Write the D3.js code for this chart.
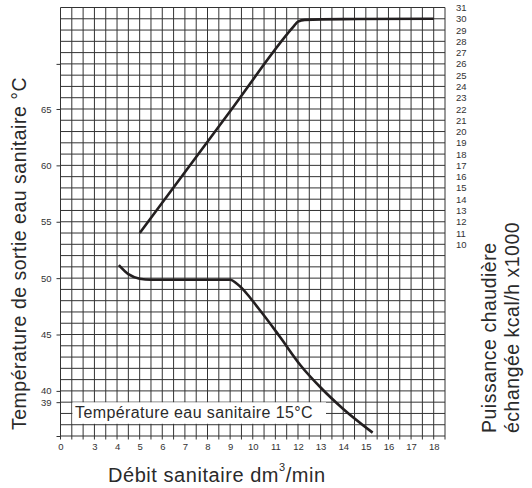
<!DOCTYPE html>
<html>
<head>
<meta charset="utf-8">
<script src="https://cdn.jsdelivr.net/npm/d3@7"></script>
<style>
  body { margin: 0; background: #fff; }
  svg { display: block; }
</style>
</head>
<body>
<div id="main"></div>
<script>
// débit sanitaire (dm3/min) -> température de sortie (°C)
var flowTemp = [4.08, 4.5, 5, 5.5, 9, 9.3, 10.3, 11.2, 12.1, 13, 14, 15.3];
var tempOut = [51.15, 50.35, 49.95, 49.85, 49.85, 49.5, 47.2, 44.8, 42.3, 40.3, 38.4, 36.3];

// débit sanitaire -> puissance échangée (kcal/h x1000)
var flowPower = [5, 9, 11.8, 12.0, 12.3, 14, 18];
var power = [11, 21.8, 29.3, 29.75, 29.9, 29.97, 30];

// ticks
var xTicks = [1.5, 3, 4, 5, 6, 7, 8, 9, 10, 11, 12, 13, 14, 15, 16, 17, 18];
var xLabels = ['0', '3', '4', '5', '6', '7', '8', '9', '10', '11', '12', '13', '14', '15', '16', '17', '18'];
var leftTicks = [36, 39, 40, 45, 50, 55, 60, 65, 69];
var leftLabels = ['', '39', '40', '45', '50', '55', '60', '65', ''];
var rightTicks = d3.range(10, 32);

var W = 532, H = 488;
var svg = d3.select('#main').append('svg').attr('width', W).attr('height', H);

var x = d3.scaleLinear().domain([1.5, 18.5]).range([60.5, 445]);
var yT = d3.scaleLinear().domain([36, 74]).range([436, 7.5]);
var yP = d3.scaleLinear().domain([-7, 31]).range([436, 7.5]);

// grille
var grid = svg.append('g').attr('stroke', '#333').attr('stroke-width', 1);
grid.selectAll('line.v')
    .data(d3.range(1.5, 18.51, 0.5))
    .enter().append('line')
    .attr('class', 'v')
    .attr('x1', d => x(d)).attr('x2', d => x(d))
    .attr('y1', yT(74)).attr('y2', yT(36) + 3.5);
grid.selectAll('line.h')
    .data(d3.range(36, 74.01, 1))
    .enter().append('line')
    .attr('class', 'h')
    .attr('x1', x(1.5)).attr('x2', x(18.5))
    .attr('y1', d => yT(d)).attr('y2', d => yT(d));

// axe gauche
var gLeft = svg.append('g').attr('transform', 'translate(' + x(1.5) + ',0)')
    .call(d3.axisLeft(yT).tickValues(leftTicks).tickSize(4).tickPadding(5)
        .tickFormat((d, i) => leftLabels[i]));
gLeft.select('.domain').remove();
gLeft.selectAll('line').attr('stroke', '#333');

// axe droit
var gRight = svg.append('g').attr('transform', 'translate(' + x(18.5) + ',0)')
    .call(d3.axisRight(yP).tickValues(rightTicks).tickSize(0).tickPadding(11));
gRight.select('.domain').remove();

// axe bas
var gBottom = svg.append('g').attr('transform', 'translate(0,' + yT(36) + ')')
    .call(d3.axisBottom(x).tickValues(xTicks).tickSize(0).tickPadding(7)
        .tickFormat((d, i) => xLabels[i]));
gBottom.select('.domain').remove();

svg.selectAll('.tick text')
    .attr('font-family', 'Liberation Sans, Arial, sans-serif')
    .attr('font-size', 9.5)
    .attr('fill', '#333');

var font = 'Liberation Sans, Arial, sans-serif';

// légende
svg.append('rect')
    .attr('x', 72.4).attr('y', 402.3)
    .attr('width', 253.6).attr('height', 21.5)
    .attr('fill', '#fff');
svg.append('text')
    .attr('x', 75).attr('y', 418)
    .attr('font-family', font).attr('font-size', 16)
    .attr('letter-spacing', 0.4)
    .attr('fill', '#2a2a2a')
    .text('Température eau sanitaire 15°C');

// courbes
var lineT = d3.line()
    .x((d, i) => x(flowTemp[i]))
    .y(d => yT(d))
    .curve(d3.curveMonotoneX);
var lineP = d3.line()
    .x((d, i) => x(flowPower[i]))
    .y(d => yP(d))
    .curve(d3.curveMonotoneX);

svg.append('path').attr('d', lineT(tempOut))
    .attr('fill', 'none').attr('stroke', '#231f20').attr('stroke-width', 2.6)
    .attr('stroke-linejoin', 'round');
svg.append('path').attr('d', lineP(power))
    .attr('fill', 'none').attr('stroke', '#231f20').attr('stroke-width', 2.6)
    .attr('stroke-linejoin', 'round');

// titres
svg.append('text')
    .attr('transform', 'translate(26,430) rotate(-90)')
    .attr('font-family', font).attr('font-size', 19.5).attr('letter-spacing', 0.5)
    .attr('fill', '#2a2a2a')
    .text('Température de sortie eau sanitaire °C');

svg.append('text')
    .attr('transform', 'translate(496,433) rotate(-90)')
    .attr('font-family', font).attr('font-size', 19.5).attr('letter-spacing', 0.5)
    .attr('fill', '#2a2a2a')
    .text('Puissance chaudière');
svg.append('text')
    .attr('transform', 'translate(519,433) rotate(-90)')
    .attr('font-family', font).attr('font-size', 19.5).attr('letter-spacing', 0.5)
    .attr('fill', '#2a2a2a')
    .text('échangée kcal/h x1000');

var xt = svg.append('text')
    .attr('x', 108).attr('y', 482)
    .attr('font-family', font).attr('font-size', 20).attr('letter-spacing', 0.55)
    .attr('fill', '#2a2a2a');
xt.append('tspan').text('Débit sanitaire dm');
xt.append('tspan').attr('font-size', 11).attr('dy', -11).text('3');
xt.append('tspan').attr('dy', 11).text('/min');
</script>
</body>
</html>
